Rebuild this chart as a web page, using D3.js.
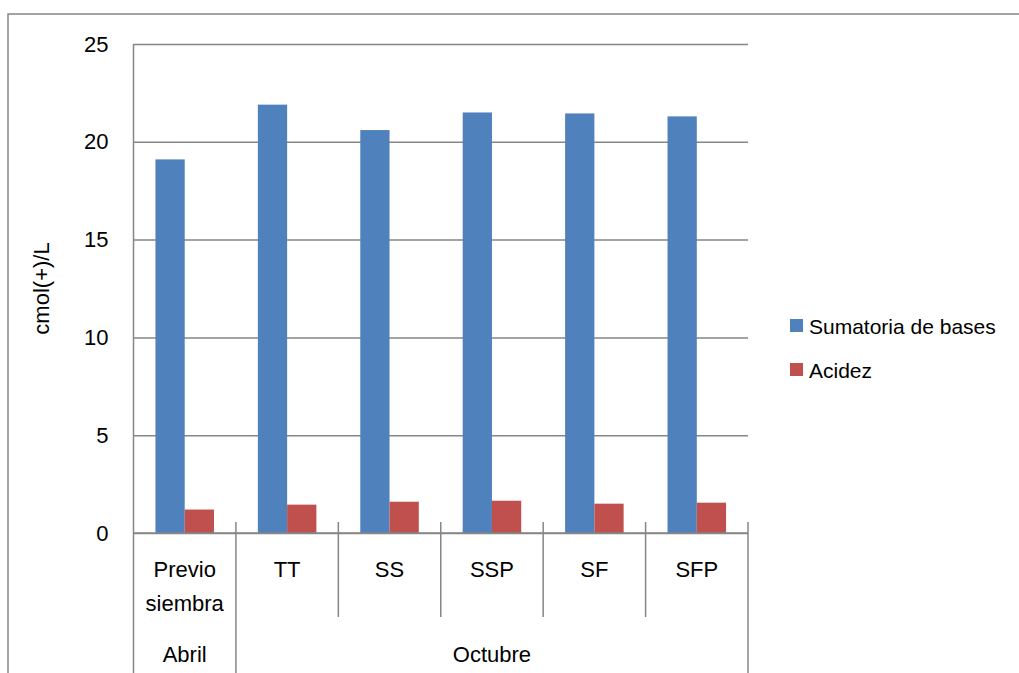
<!DOCTYPE html>
<html>
<head>
<meta charset="utf-8">
<script src="https://cdn.jsdelivr.net/npm/d3@7"></script>
<style>
  body { margin: 0; background: #fff; }
  svg { font-family: "Liberation Sans", Arial, sans-serif; }
</style>
</head>
<body>
<svg></svg>
<script>
const categories = ["Previo siembra", "TT", "SS", "SSP", "SF", "SFP"];
const months = [
  { name: "Abril", first: "Previo siembra", last: "Previo siembra" },
  { name: "Octubre", first: "TT", last: "SFP" },
];
const seriesNames = ["Sumatoria de bases", "Acidez"];
const sumatoria = [19.1, 21.9, 20.6, 21.5, 21.45, 21.3];
const acidez = [1.2, 1.45, 1.6, 1.65, 1.5, 1.55];
const yTicks = [0, 5, 10, 15, 20, 25];

const W = 1019, H = 673;
const margin = { top: 44, right: 271, bottom: 140, left: 133.5 },
  width = W - margin.left - margin.right,
  height = H - margin.top - margin.bottom;
const fontSize = "22px";

const svgRoot = d3.select("svg").attr("width", W).attr("height", H);

// outer chart border (top + left visible)
svgRoot.append("path")
  .attr("d", "M8,673 L8,14 L1019,14")
  .attr("fill", "none")
  .attr("stroke", "#868686")
  .attr("stroke-width", 1.5);

const svg = svgRoot.append("g")
  .attr("transform", "translate(" + margin.left + "," + margin.top + ")");

const x0 = d3.scaleBand().domain(categories).range([0, width]).paddingInner(0).paddingOuter(0);
// gap width 150% -> 2 bars + 1.5 bar gap per category
const x1 = d3.scaleBand().domain(seriesNames)
  .range([x0.bandwidth() * 0.75 / 3.5, x0.bandwidth() * (0.75 + 2) / 3.5]);
const y = d3.scaleLinear().domain([0, 25]).range([height, 0]);
const color = d3.scaleOrdinal().domain(seriesNames).range(["#4F81BD", "#C0504D"]);

// gridlines + y labels
const yAxis = d3.axisLeft(y).tickValues(yTicks).tickSize(-width).tickPadding(25);
const gy = svg.append("g").attr("class", "y axis").call(yAxis);
gy.select(".domain").remove();
gy.selectAll(".tick line").attr("stroke", "#868686").attr("stroke-width", 1.5);
gy.selectAll(".tick text").attr("fill", "#000").style("font-size", fontSize)
  .style("font-family", "Liberation Sans, Arial, sans-serif");

// y axis line
svg.append("line")
  .attr("x1", 0).attr("x2", 0).attr("y1", 0).attr("y2", height)
  .attr("stroke", "#868686").attr("stroke-width", 1.5);

// bars
const rows = categories.map(function (c, i) {
  return { cat: c, values: [sumatoria[i], acidez[i]] };
});
const groups = svg.selectAll(".cat").data(rows).enter().append("g")
  .attr("class", "cat")
  .attr("transform", function (d) { return "translate(" + x0(d.cat) + ",0)"; });
groups.selectAll("rect")
  .data(function (d) { return d.values.map(function (v, i) { return { s: seriesNames[i], v: v }; }); })
  .enter().append("rect")
  .attr("x", function (d) { return x1(d.s); })
  .attr("width", x1.bandwidth())
  .attr("y", function (d) { return y(d.v); })
  .attr("height", function (d) { return height - y(d.v); })
  .attr("fill", function (d) { return color(d.s); });

// x axis line
svg.append("line")
  .attr("x1", 0).attr("x2", width).attr("y1", height).attr("y2", height)
  .attr("stroke", "#868686").attr("stroke-width", 1.5);

// category separators
const boundaries = categories.map(function (c) { return x0(c); }).concat([width]);
const monthEdges = [0].concat(months.map(function (m) { return x0(m.last) + x0.bandwidth(); }));
boundaries.forEach(function (bx) {
  const isMonth = monthEdges.some(function (m) { return Math.abs(m - bx) < 0.5; });
  svg.append("line")
    .attr("x1", bx).attr("x2", bx)
    .attr("y1", bx === 0 ? height : height - 11)
    .attr("y2", isMonth ? H - margin.top : height + 84)
    .attr("stroke", "#868686").attr("stroke-width", 1.5);
});

// category labels
svg.selectAll(".catlabel").data(categories).enter().append("text")
  .attr("class", "catlabel")
  .attr("text-anchor", "middle")
  .attr("x", function (d) { return x0(d) + x0.bandwidth() / 2; })
  .attr("y", height + 44)
  .style("font-size", fontSize)
  .each(function (d) {
    const words = d.split(" ");
    const t = d3.select(this);
    words.forEach(function (w, i) {
      t.append("tspan").attr("x", x0(d) + x0.bandwidth() / 2).attr("dy", i === 0 ? 0 : 34).text(w);
    });
  });

// month labels
svg.selectAll(".monthlabel").data(months).enter().append("text")
  .attr("class", "monthlabel")
  .attr("text-anchor", "middle")
  .attr("x", function (d) { return (x0(d.first) + x0(d.last) + x0.bandwidth()) / 2; })
  .attr("y", height + 129)
  .style("font-size", fontSize)
  .text(function (d) { return d.name; });

// y axis title
svgRoot.append("text")
  .attr("transform", "translate(49," + (margin.top + height / 2) + ") rotate(-90)")
  .attr("text-anchor", "middle")
  .style("font-size", fontSize)
  .text("cmol(+)/L");

// legend
const legend = svgRoot.append("g").attr("transform", "translate(790,318)");
const legendItem = legend.selectAll(".legend-item").data(seriesNames).enter().append("g")
  .attr("class", "legend-item")
  .attr("transform", function (d, i) { return "translate(0," + i * 44 + ")"; });
legendItem.append("rect")
  .attr("x", 0).attr("y", 1).attr("width", 13).attr("height", 13)
  .attr("fill", color);
legendItem.append("text")
  .attr("x", 19).attr("y", 15.5)
  .style("font-size", "21px")
  .text(function (d) { return d; });
</script>
</body>
</html>
